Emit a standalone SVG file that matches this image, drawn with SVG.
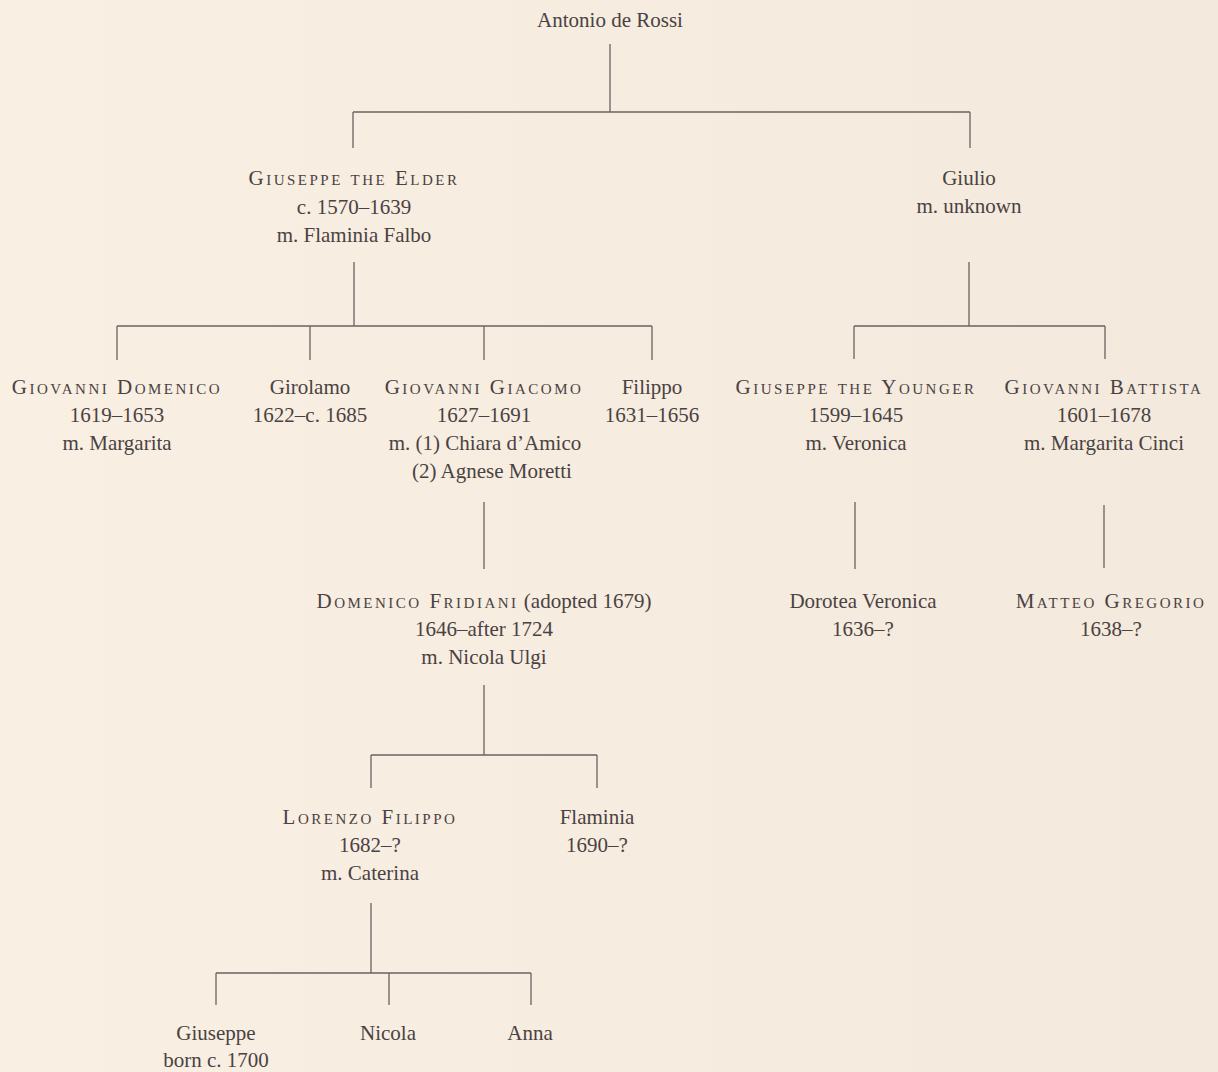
<svg xmlns="http://www.w3.org/2000/svg" width="1218" height="1072" viewBox="0 0 1218 1072">
<defs>
<linearGradient id="bg" x1="0" y1="0" x2="1" y2="0">
<stop offset="0" stop-color="#f9efe3"/>
<stop offset="1" stop-color="#f3e9dd"/>
</linearGradient>
<style>
text{font-family:"Liberation Serif","DejaVu Serif",serif;font-size:21px;fill:#4a4242;text-anchor:middle}
.sc{font-variant:small-caps;letter-spacing:2.5px}
.st{text-anchor:start}
#connectors path{fill:none;stroke:#6b6363;stroke-width:1.3}
</style>
</defs>
<rect width="1218" height="1072" fill="url(#bg)"/>
<g id="connectors">
<path d="M610 44V112M353 112H970M353 112V148M970 112V148"/>
<path d="M354 262V326M117 326H652M117 326V360M310 326V360M484 326V360M652 326V360"/>
<path d="M969 262V326M854 326H1105M854 326V359M1105 326V359"/>
<path d="M484 502V569M855 502V569M1104 505V568"/>
<path d="M484 685V755M371 755H597M371 755V788M597 755V788"/>
<path d="M371 903V973M216 973H531M216 973V1005M389 973V1005M531 973V1005"/>
</g>
<g id="antonio"><text x="610" y="27">Antonio de Rossi</text></g>
<g id="giuseppe-elder"><text class="sc" x="354" y="185">Giuseppe the Elder</text><text x="354" y="214">c. 1570–1639</text><text x="354" y="242">m. Flaminia Falbo</text></g>
<g id="giulio"><text x="969" y="185">Giulio</text><text x="969" y="213">m. unknown</text></g>
<g id="giovanni-domenico"><text class="sc" x="117" y="394">Giovanni Domenico</text><text x="117" y="422">1619–1653</text><text x="117" y="450">m. Margarita</text></g>
<g id="girolamo"><text x="310" y="394">Girolamo</text><text x="310" y="422">1622–c. 1685</text></g>
<g id="giovanni-giacomo"><text class="sc" x="484" y="394">Giovanni Giacomo</text><text x="484" y="422">1627–1691</text><text x="485" y="450">m. (1) Chiara d’Amico</text><text class="st" x="412" y="478">(2) Agnese Moretti</text></g>
<g id="filippo"><text x="652" y="394">Filippo</text><text x="652" y="422">1631–1656</text></g>
<g id="giuseppe-younger"><text class="sc" x="856" y="394">Giuseppe the Younger</text><text x="856" y="422">1599–1645</text><text x="856" y="450">m. Veronica</text></g>
<g id="giovanni-battista"><text class="sc" x="1104" y="394">Giovanni Battista</text><text x="1104" y="422">1601–1678</text><text x="1104" y="450">m. Margarita Cinci</text></g>
<g id="domenico-fridiani"><text x="484" y="608"><tspan class="sc">Domenico Fridiani</tspan> (adopted 1679)</text><text x="484" y="636">1646–after 1724</text><text x="484" y="664">m. Nicola Ulgi</text></g>
<g id="dorotea-veronica"><text x="863" y="608">Dorotea Veronica</text><text x="863" y="636">1636–?</text></g>
<g id="matteo-gregorio"><text class="sc" x="1111" y="608">Matteo Gregorio</text><text x="1111" y="636">1638–?</text></g>
<g id="lorenzo-filippo"><text class="sc" x="370" y="824">Lorenzo Filippo</text><text x="370" y="852">1682–?</text><text x="370" y="880">m. Caterina</text></g>
<g id="flaminia"><text x="597" y="824">Flaminia</text><text x="597" y="852">1690–?</text></g>
<g id="giuseppe"><text x="216" y="1040">Giuseppe</text><text x="216" y="1067">born c. 1700</text></g>
<g id="nicola"><text x="388" y="1040">Nicola</text></g>
<g id="anna"><text x="530" y="1040">Anna</text></g>
</svg>
